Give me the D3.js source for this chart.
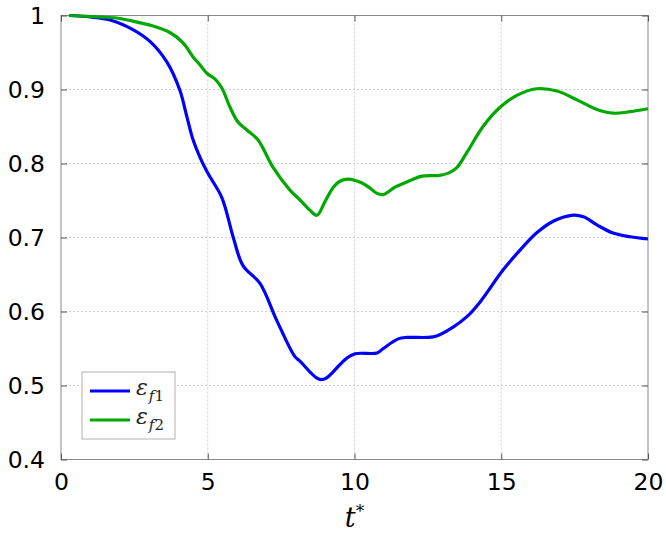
<!DOCTYPE html>
<html>
<head>
<meta charset="utf-8">
<script src="https://cdn.jsdelivr.net/npm/d3@7/dist/d3.min.js"></script>
<style>
  html, body { margin: 0; padding: 0; background: #fff; }
  svg { display: block; }
</style>
</head>
<body>
<svg id="chart" width="666" height="535"></svg>
<script>
// Filtration efficiency over dimensionless time t*
const tF1 = [0.27, 1.0, 1.67, 2.45, 3.03, 3.61, 4.05, 4.29, 4.5, 4.74, 5.0, 5.48, 5.87, 6.2, 6.78, 7.35, 7.97, 8.14, 8.76, 9.0, 9.5, 9.74, 10.02, 10.77, 10.98, 11.49, 11.79, 12.47, 12.8, 13.36, 13.83, 14.28, 15.06, 15.64, 16.2, 16.77, 17.4, 17.8, 18.26, 18.81, 19.39, 20.0];
const epsF1 = [1.0, 0.998, 0.994, 0.981, 0.965, 0.937, 0.899, 0.863, 0.832, 0.808, 0.787, 0.754, 0.700, 0.662, 0.638, 0.588, 0.539, 0.533, 0.509, 0.509, 0.528, 0.537, 0.543, 0.544, 0.550, 0.563, 0.565, 0.565, 0.567, 0.579, 0.593, 0.613, 0.656, 0.683, 0.706, 0.722, 0.730, 0.728, 0.717, 0.706, 0.701, 0.698];

const tF2 = [0.27, 1.33, 2.0, 2.7, 3.03, 3.71, 4.16, 4.5, 4.74, 4.97, 5.25, 5.48, 5.76, 6.03, 6.34, 6.71, 7.22, 7.8, 8.14, 8.48, 8.72, 9.0, 9.28, 9.5, 9.79, 10.24, 10.52, 10.75, 10.98, 11.38, 11.78, 12.3, 12.9, 13.2, 13.48, 13.83, 14.38, 14.96, 15.53, 16.2, 16.9, 17.58, 18.26, 18.81, 19.39, 20.0];
const epsF2 = [1.0, 0.998, 0.996, 0.990, 0.987, 0.977, 0.963, 0.944, 0.933, 0.922, 0.914, 0.902, 0.876, 0.856, 0.845, 0.832, 0.795, 0.764, 0.751, 0.737, 0.730, 0.749, 0.768, 0.776, 0.779, 0.774, 0.767, 0.760, 0.758, 0.768, 0.775, 0.783, 0.784, 0.787, 0.794, 0.815, 0.850, 0.876, 0.892, 0.901, 0.898, 0.886, 0.873, 0.868, 0.870, 0.874];

const xTicks = [0, 5, 10, 15, 20];
const yTicks = [0.4, 0.5, 0.6, 0.7, 0.8, 0.9, 1];
const yTickLabels = ["0.4", "0.5", "0.6", "0.7", "0.8", "0.9", "1"];

const series = [
  { t: tF1, v: epsF1, color: "#0000ff", sub: "f1" },
  { t: tF2, v: epsF2, color: "#00a800", sub: "f2" }
];

const svg = d3.select("#chart");
const m = { left: 61, top: 15.5, right: 648, bottom: 459.5 };

const x = d3.scaleLinear().domain([0, 20]).range([m.left, m.right]);
const y = d3.scaleLinear().domain([0.4, 1]).range([m.bottom, m.top]);

// grid
const grid = svg.append("g").attr("stroke", "#d0d0d0").attr("stroke-width", 1).attr("stroke-dasharray", "2,2");
xTicks.slice(1, -1).forEach(d => {
  grid.append("line").attr("x1", x(d)).attr("x2", x(d)).attr("y1", m.top).attr("y2", m.bottom);
});
yTicks.slice(1, -1).forEach(d => {
  grid.append("line").attr("x1", m.left).attr("x2", m.right).attr("y1", y(d)).attr("y2", y(d));
});

// axes frame
svg.append("rect")
  .attr("x", m.left).attr("y", m.top)
  .attr("width", m.right - m.left).attr("height", m.bottom - m.top)
  .attr("fill", "none").attr("stroke", "#8a8a8a").attr("stroke-width", 1);

const tickLen = 6;
const fontAxis = "'DejaVu Sans', sans-serif";

// bottom axis
const xAxis = d3.axisBottom(x).tickValues(xTicks).tickSizeInner(-tickLen).tickSizeOuter(0).tickPadding(14);
const gx = svg.append("g").attr("transform", `translate(0,${m.bottom})`).call(xAxis);
gx.select(".domain").remove();
gx.selectAll(".tick line").attr("stroke", "#555");
gx.selectAll(".tick text").attr("font-family", fontAxis).attr("font-size", 23.5).attr("fill", "#000");

// left axis
const yAxis = d3.axisLeft(y).tickValues(yTicks).tickFormat((d, i) => yTickLabels[i]).tickSizeInner(-tickLen).tickSizeOuter(0).tickPadding(16);
const gy = svg.append("g").attr("transform", `translate(${m.left},0)`).call(yAxis);
gy.select(".domain").remove();
gy.selectAll(".tick line").attr("stroke", "#555");
gy.selectAll(".tick text").attr("font-family", fontAxis).attr("font-size", 23.5).attr("fill", "#000");

// mirrored ticks on top and right
const gt = svg.append("g").attr("transform", `translate(0,${m.top})`)
  .call(d3.axisTop(x).tickValues(xTicks).tickSizeInner(-tickLen).tickSizeOuter(0).tickFormat(""));
gt.select(".domain").remove();
gt.selectAll(".tick line").attr("stroke", "#555");
const gr = svg.append("g").attr("transform", `translate(${m.right},0)`)
  .call(d3.axisRight(y).tickValues(yTicks).tickSizeInner(-tickLen).tickSizeOuter(0).tickFormat(""));
gr.select(".domain").remove();
gr.selectAll(".tick line").attr("stroke", "#555");

// curves
const line = d3.line().x(d => x(d[0])).y(d => y(d[1])).curve(d3.curveCatmullRom.alpha(0.5));
series.forEach(s => {
  svg.append("path")
    .datum(s.t.map((t, i) => [t, s.v[i]]))
    .attr("fill", "none")
    .attr("stroke", s.color)
    .attr("stroke-width", 3.2)
    .attr("stroke-linejoin", "round")
    .attr("d", line);
});

// x label t*
const xl = svg.append("text")
  .attr("x", x(10)).attr("y", 527)
  .attr("text-anchor", "middle")
  .attr("font-family", "'DejaVu Serif', serif")
  .attr("font-size", 27)
  .attr("fill", "#000");
xl.append("tspan").attr("font-style", "italic").text("t");
xl.append("tspan").attr("font-size", 17).attr("dy", -10).text("*");

// legend
const lg = svg.append("g");
lg.append("rect")
  .attr("x", 82).attr("y", 372).attr("width", 93).attr("height", 67)
  .attr("fill", "#fff").attr("stroke", "#b0b0b0").attr("stroke-width", 1);
series.forEach((s, i) => {
  const yy = 391 + i * 29;
  lg.append("line")
    .attr("x1", 90).attr("x2", 130).attr("y1", yy).attr("y2", yy)
    .attr("stroke", s.color).attr("stroke-width", 3);
  const tx = lg.append("text")
    .attr("x", 136).attr("y", yy + 4)
    .attr("font-family", "'DejaVu Serif', serif")
    .attr("font-size", 22)
    .attr("fill", "#222");
  tx.append("tspan").attr("font-style", "italic").text("ε");
  tx.append("tspan").attr("font-style", "italic").attr("font-size", 15).attr("dy", 6).attr("dx", 1).text("f");
  tx.append("tspan").attr("font-size", 15).text(s.sub.slice(1));
});
</script>
</body>
</html>
